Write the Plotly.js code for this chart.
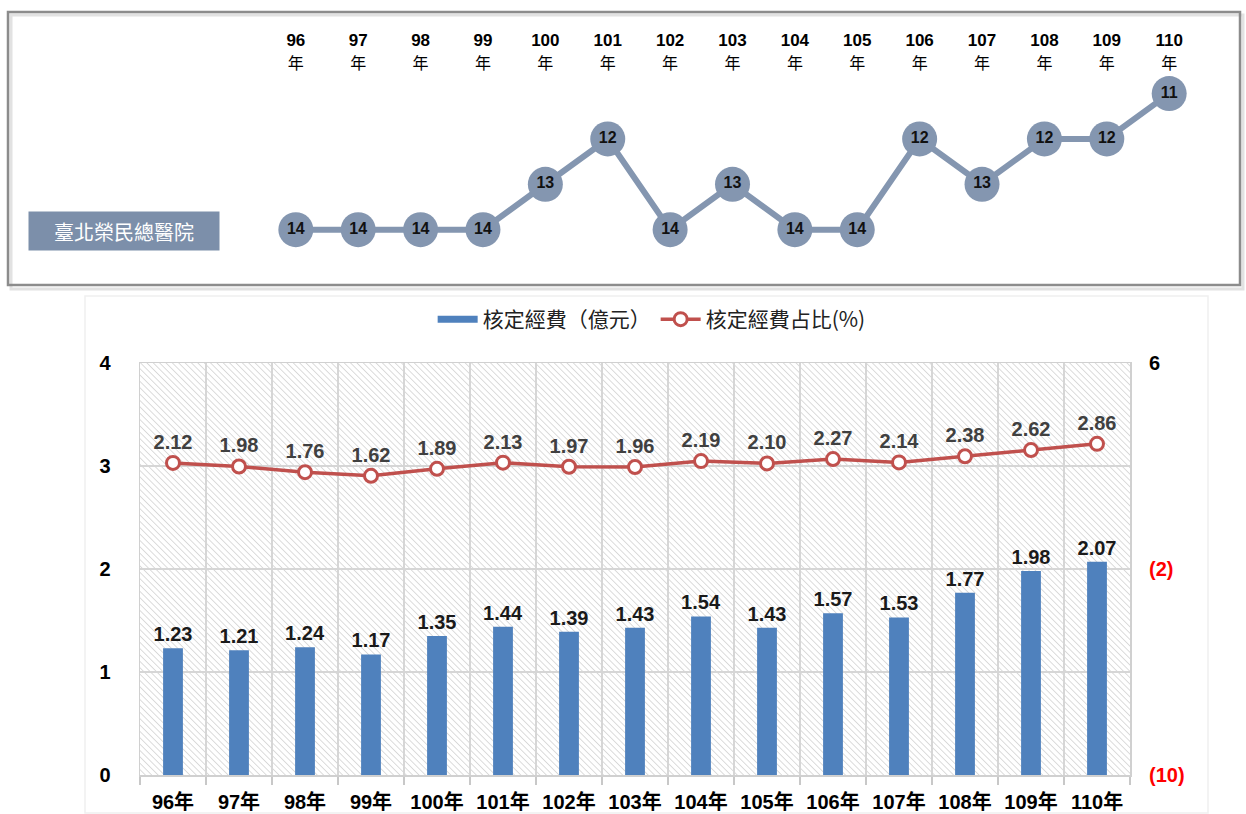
<!DOCTYPE html>
<html>
<head>
<meta charset="utf-8">
<script src="https://cdn.plot.ly/plotly-3.0.1.min.js"></script>
<style>html,body{margin:0;padding:0;background:#fff;}#chart{width:1246px;height:814px;}</style>
</head>
<body>
<div id="chart"></div>
<script>
// ---- data ----
const years = ['96','97','98','99','100','101','102','103','104','105','106','107','108','109','110'];
const yearLabels = years.map(y => y + '年');
const ranks = [14,14,14,14,13,12,14,13,14,14,12,13,12,12,11];
const funds = [1.23,1.21,1.24,1.17,1.35,1.44,1.39,1.43,1.54,1.43,1.57,1.53,1.77,1.98,2.07];
const shares = [2.12,1.98,1.76,1.62,1.89,2.13,1.97,1.96,2.19,2.10,2.27,2.14,2.38,2.62,2.86];
const hospitalName = '臺北榮民總醫院';
const seriesNames = ['核定經費（億元）', '核定經費占比(%)'];
const rightTickVals = [-10, -2, 6];
const rightTickText = ["<span style='color:#ff0000'>(10)</span>", "<span style='color:#ff0000'>(2)</span>", "6"];

const W = 1246, H = 814;
const px = v => v / W;
const py = v => 1 - v / H;

const CJK = '"Noto Sans CJK TC", "Noto Sans CJK SC", sans-serif';
const LAT = 'Arial, "Liberation Sans", "Noto Sans CJK TC", sans-serif';

// hatch background for the lower plot area
const hatchSvg = "<svg xmlns='http://www.w3.org/2000/svg' width='990' height='412'><defs><pattern id='p' width='4.5' height='4.5' patternUnits='userSpaceOnUse' patternTransform='rotate(-45)'><line x1='0' y1='0' x2='0' y2='4.5' stroke='#c9c9c9' stroke-width='1.3'/></pattern></defs><rect width='100%' height='100%' fill='#ffffff'/><rect width='100%' height='100%' fill='url(#p)'/></svg>";
const hatchUri = 'data:image/svg+xml;charset=utf-8,' + encodeURIComponent(hatchSvg);

const bottomDomX = [px(140), px(1130)];
const bottomDomY = [py(775), py(363)];

const traces = [
  {
    type: 'bar', name: seriesNames[0], x: yearLabels, y: funds, showlegend: false,
    xaxis: 'x', yaxis: 'y', width: 0.3,
    marker: {color: '#4F81BD'},
    text: funds.map(v => v.toFixed(2)), textposition: 'outside', constraintext: 'none',
    textfont: {family: LAT, size: 20, color: '#1a1a1a', weight: 'bold'},
    cliponaxis: false, hoverinfo: 'x+y'
  },
  { // legend entry for the bars, drawn as a wide bar swatch like the original
    type: 'scatter', mode: 'lines', name: seriesNames[0], x: [null], y: [null],
    xaxis: 'x', yaxis: 'y', line: {color: '#4F81BD', width: 7}, hoverinfo: 'skip'
  },
  {
    type: 'scatter', mode: 'lines+markers+text', name: seriesNames[1],
    x: yearLabels, y: shares, xaxis: 'x', yaxis: 'y2',
    line: {color: '#C0504D', width: 3.5},
    marker: {symbol: 'circle', size: 13, color: '#ffffff', line: {color: '#C0504D', width: 3}},
    text: shares.map(v => v.toFixed(2)), textposition: 'top center',
    textfont: {family: LAT, size: 20, color: '#404040', weight: 'bold'},
    cliponaxis: false
  },
  {
    type: 'scatter', mode: 'lines+markers+text', name: hospitalName, showlegend: false,
    x: years, y: ranks, xaxis: 'x2', yaxis: 'y3',
    line: {color: '#8496B0', width: 6},
    marker: {size: 35, color: '#8496B0'},
    text: ranks.map(v => '<b>' + v + '</b>'), textposition: 'middle center',
    textfont: {family: LAT, size: 16, color: '#111111'},
    cliponaxis: false
  }
];

const layout = {
  width: W, height: H,
  margin: {l: 0, r: 0, t: 0, b: 0},
  paper_bgcolor: '#ffffff', plot_bgcolor: 'rgba(0,0,0,0)',
  font: {family: LAT, color: '#000'},
  showlegend: true,
  legend: {
    orientation: 'h', x: 0.523, xanchor: 'center', y: py(299), yanchor: 'top',
    font: {family: CJK, size: 21, color: '#222'}, itemwidth: 40, traceorder: 'normal'
  },
  xaxis: {
    domain: bottomDomX, anchor: 'y', type: 'category', range: [-0.5, 14.5],
    tickson: 'boundaries', showgrid: true, gridcolor: '#d6d6d6', gridwidth: 1.5,
    ticks: 'outside', ticklen: 8, tickcolor: '#c8c8c8', tickwidth: 1.5,
    showline: true, linecolor: '#d0d0d0', linewidth: 1.5, mirror: true,
    ticklabelstandoff: 8,
    tickfont: {family: LAT, size: 20, color: '#000', weight: 'bold'},
    fixedrange: true
  },
  yaxis: {
    domain: bottomDomY, anchor: 'x', range: [0, 4], dtick: 1,
    showgrid: true, gridcolor: '#d6d6d6', gridwidth: 1.5, zeroline: false,
    showline: true, linecolor: '#d0d0d0', linewidth: 1.5, mirror: true,
    ticks: '', ticklabelstandoff: 24,
    tickfont: {family: LAT, size: 20, color: '#000', weight: 'bold'}
  },
  yaxis2: {
    overlaying: 'y', side: 'right', anchor: 'x', range: [-10, 6],
    tickmode: 'array', tickvals: rightTickVals, ticktext: rightTickText,
    showgrid: false, zeroline: false, ticks: '', ticklabelstandoff: 18,
    tickfont: {family: LAT, size: 20, color: '#000', weight: 'bold'}
  },
  xaxis2: {
    domain: [px(223), px(1242)], anchor: 'y3', side: 'top', type: 'category',
    tickmode: 'array', tickvals: years, ticktext: years.map(y => '<b>' + y + '</b><br><span style="font-size:16px">年</span>'),
    showgrid: false, showline: false, zeroline: false, ticks: '', ticklabelstandoff: 7,
    tickfont: {family: LAT, size: 17, color: '#000'}
  },
  yaxis3: {
    domain: [py(275), py(80)], anchor: 'x2', range: [15, 10.7], visible: false
  },
  images: [{
    source: hatchUri, xref: 'paper', yref: 'paper',
    x: bottomDomX[0], y: bottomDomY[1],
    sizex: bottomDomX[1] - bottomDomX[0], sizey: bottomDomY[1] - bottomDomY[0],
    sizing: 'stretch', xanchor: 'left', yanchor: 'top', layer: 'below'
  }],
  shapes: [
    {type: 'rect', xref: 'paper', yref: 'paper', x0: px(11), x1: px(1243), y0: py(289), y1: py(15),
     line: {color: '#e2e2e2', width: 3}, fillcolor: 'rgba(0,0,0,0)'},
    {type: 'rect', xref: 'paper', yref: 'paper', x0: px(8), x1: px(1240), y0: py(285), y1: py(12),
     line: {color: '#8c8c8c', width: 2.5}, fillcolor: 'rgba(0,0,0,0)'},
    {type: 'rect', xref: 'paper', yref: 'paper', x0: px(85), x1: px(1208), y0: py(813), y1: py(296),
     line: {color: '#f0f0f0', width: 1.5}, fillcolor: 'rgba(0,0,0,0)', layer: 'below'}
  ],
  annotations: [{
    text: hospitalName, xref: 'paper', yref: 'paper',
    x: px(124), y: py(231), xanchor: 'center', yanchor: 'middle',
    width: 188, height: 36, bgcolor: '#7C8FAA', showarrow: false,
    font: {family: CJK, size: 20, color: '#ffffff'}
  }]
};

Plotly.newPlot('chart', traces, layout, {displayModeBar: false, staticPlot: true});
</script>
</body>
</html>
